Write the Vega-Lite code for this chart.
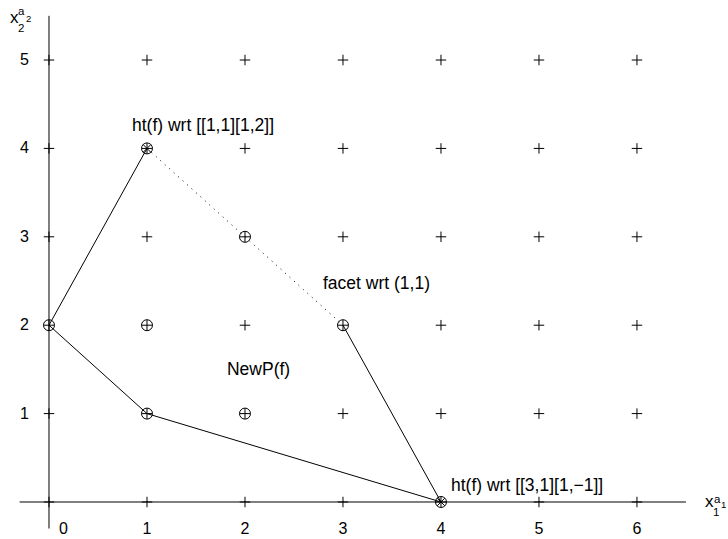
{
  "$schema": "https://vega.github.io/schema/vega-lite/v6.json",
  "width": 728,
  "height": 539,
  "autosize": {"type": "none"},
  "padding": 0,
  "background": "white",
  "config": {"view": {"stroke": null}, "text": {"font": "Liberation Sans", "color": "black"}},
  "datasets": {
    "axes": [
      {"x": -0.3, "x2": 6.5, "y": 0, "y2": 0},
      {"x": 0, "x2": 0, "y": -0.3, "y2": 5.5}
    ],
    "solid": [
      {"seg": "A", "ord": 1, "x": 0, "y": 2},
      {"seg": "A", "ord": 2, "x": 1, "y": 4},
      {"seg": "B", "ord": 1, "x": 0, "y": 2},
      {"seg": "B", "ord": 2, "x": 1, "y": 1},
      {"seg": "B", "ord": 3, "x": 4, "y": 0},
      {"seg": "B", "ord": 4, "x": 3, "y": 2}
    ],
    "dotted": [
      {"ord": 1, "x": 1, "y": 4},
      {"ord": 2, "x": 3, "y": 2}
    ],
    "lattice": [
      {"x": 0, "y": 0}, {"x": 1, "y": 0}, {"x": 2, "y": 0}, {"x": 3, "y": 0}, {"x": 4, "y": 0}, {"x": 5, "y": 0}, {"x": 6, "y": 0},
      {"x": 0, "y": 1}, {"x": 1, "y": 1}, {"x": 2, "y": 1}, {"x": 3, "y": 1}, {"x": 4, "y": 1}, {"x": 5, "y": 1}, {"x": 6, "y": 1},
      {"x": 0, "y": 2}, {"x": 1, "y": 2}, {"x": 2, "y": 2}, {"x": 3, "y": 2}, {"x": 4, "y": 2}, {"x": 5, "y": 2}, {"x": 6, "y": 2},
      {"x": 0, "y": 3}, {"x": 1, "y": 3}, {"x": 2, "y": 3}, {"x": 3, "y": 3}, {"x": 4, "y": 3}, {"x": 5, "y": 3}, {"x": 6, "y": 3},
      {"x": 0, "y": 4}, {"x": 1, "y": 4}, {"x": 2, "y": 4}, {"x": 3, "y": 4}, {"x": 4, "y": 4}, {"x": 5, "y": 4}, {"x": 6, "y": 4},
      {"x": 0, "y": 5}, {"x": 1, "y": 5}, {"x": 2, "y": 5}, {"x": 3, "y": 5}, {"x": 4, "y": 5}, {"x": 5, "y": 5}, {"x": 6, "y": 5}
    ],
    "circled": [
      {"x": 0, "y": 2}, {"x": 1, "y": 4}, {"x": 2, "y": 3}, {"x": 3, "y": 2},
      {"x": 1, "y": 2}, {"x": 1, "y": 1}, {"x": 2, "y": 1}, {"x": 4, "y": 0}
    ],
    "starred": [
      {"x": 1, "y": 4}, {"x": 4, "y": 0}
    ],
    "xlabels": [
      {"x": 0.148, "y": -0.305, "t": "0"},
      {"x": 1, "y": -0.305, "t": "1"},
      {"x": 2, "y": -0.305, "t": "2"},
      {"x": 3, "y": -0.305, "t": "3"},
      {"x": 4, "y": -0.305, "t": "4"},
      {"x": 5, "y": -0.305, "t": "5"},
      {"x": 6, "y": -0.305, "t": "6"}
    ],
    "ylabels": [
      {"x": -0.25, "y": 1, "t": "1"},
      {"x": -0.25, "y": 2, "t": "2"},
      {"x": -0.25, "y": 3, "t": "3"},
      {"x": -0.25, "y": 4, "t": "4"},
      {"x": -0.25, "y": 5, "t": "5"}
    ],
    "notes": [
      {"x": 0.847, "y": 4.253, "t": "ht(f) wrt [[1,1][1,2]]"},
      {"x": 4.102, "y": 0.181, "t": "ht(f) wrt [[3,1][1,−1]]"},
      {"x": 2.796, "y": 2.466, "t": "facet wrt (1,1)"},
      {"x": 1.816, "y": 1.493, "t": "NewP(f)"}
    ],
    "titleBase": [
      {"x": -0.398, "y": 5.419, "t": "x"},
      {"x": 6.694, "y": -0.0566, "t": "x"}
    ],
    "titleSubSup": [
      {"x": -0.316, "y": 5.317, "t": "2"},
      {"x": -0.316, "y": 5.509, "t": "a"},
      {"x": 6.776, "y": -0.158, "t": "1"},
      {"x": 6.786, "y": -0.0113, "t": "a"}
    ],
    "titleTiny": [
      {"x": -0.235, "y": 5.43, "t": "2"},
      {"x": 6.857, "y": -0.068, "t": "1"}
    ]
  },
  "encoding": {
    "x": {"field": "x", "type": "quantitative", "scale": {"domain": [-0.5, 6.929], "nice": false, "zero": false}, "axis": null},
    "y": {"field": "y", "type": "quantitative", "scale": {"domain": [-0.4186, 5.679], "nice": false, "zero": false}, "axis": null}
  },
  "layer": [
    {
      "data": {"name": "axes"},
      "mark": {"type": "rule", "color": "black", "strokeWidth": 1},
      "encoding": {"x2": {"field": "x2"}, "y2": {"field": "y2"}}
    },
    {
      "data": {"name": "solid"},
      "mark": {"type": "line", "color": "black", "strokeWidth": 1},
      "encoding": {"detail": {"field": "seg"}, "order": {"field": "ord", "type": "quantitative"}}
    },
    {
      "data": {"name": "dotted"},
      "mark": {"type": "line", "color": "black", "strokeWidth": 1, "strokeDash": [1, 5]},
      "encoding": {"order": {"field": "ord", "type": "quantitative"}}
    },
    {
      "data": {"name": "lattice"},
      "mark": {"type": "point", "shape": "M-1,0H1M0,-1V1", "size": 110, "stroke": "black", "strokeWidth": 1, "filled": false, "opacity": 1},
      "encoding": {}
    },
    {
      "data": {"name": "circled"},
      "mark": {"type": "point", "shape": "circle", "size": 121, "stroke": "black", "strokeWidth": 1, "filled": false, "opacity": 1},
      "encoding": {}
    },
    {
      "data": {"name": "starred"},
      "mark": {"type": "point", "shape": "M-0.7,-0.7L0.7,0.7M-0.7,0.7L0.7,-0.7", "size": 121, "stroke": "black", "strokeWidth": 1, "filled": false, "opacity": 1},
      "encoding": {}
    },
    {
      "data": {"name": "xlabels"},
      "mark": {"type": "text", "fontSize": 16, "align": "center", "baseline": "middle"},
      "encoding": {"text": {"field": "t"}}
    },
    {
      "data": {"name": "ylabels"},
      "mark": {"type": "text", "fontSize": 16, "align": "center", "baseline": "middle"},
      "encoding": {"text": {"field": "t"}}
    },
    {
      "data": {"name": "notes"},
      "mark": {"type": "text", "fontSize": 17.5, "align": "left", "baseline": "middle"},
      "encoding": {"text": {"field": "t"}}
    },
    {
      "data": {"name": "titleBase"},
      "mark": {"type": "text", "fontSize": 17, "align": "left", "baseline": "alphabetic"},
      "encoding": {"text": {"field": "t"}}
    },
    {
      "data": {"name": "titleSubSup"},
      "mark": {"type": "text", "fontSize": 11.5, "align": "left", "baseline": "alphabetic"},
      "encoding": {"text": {"field": "t"}}
    },
    {
      "data": {"name": "titleTiny"},
      "mark": {"type": "text", "fontSize": 9.5, "align": "left", "baseline": "alphabetic"},
      "encoding": {"text": {"field": "t"}}
    }
  ]
}
